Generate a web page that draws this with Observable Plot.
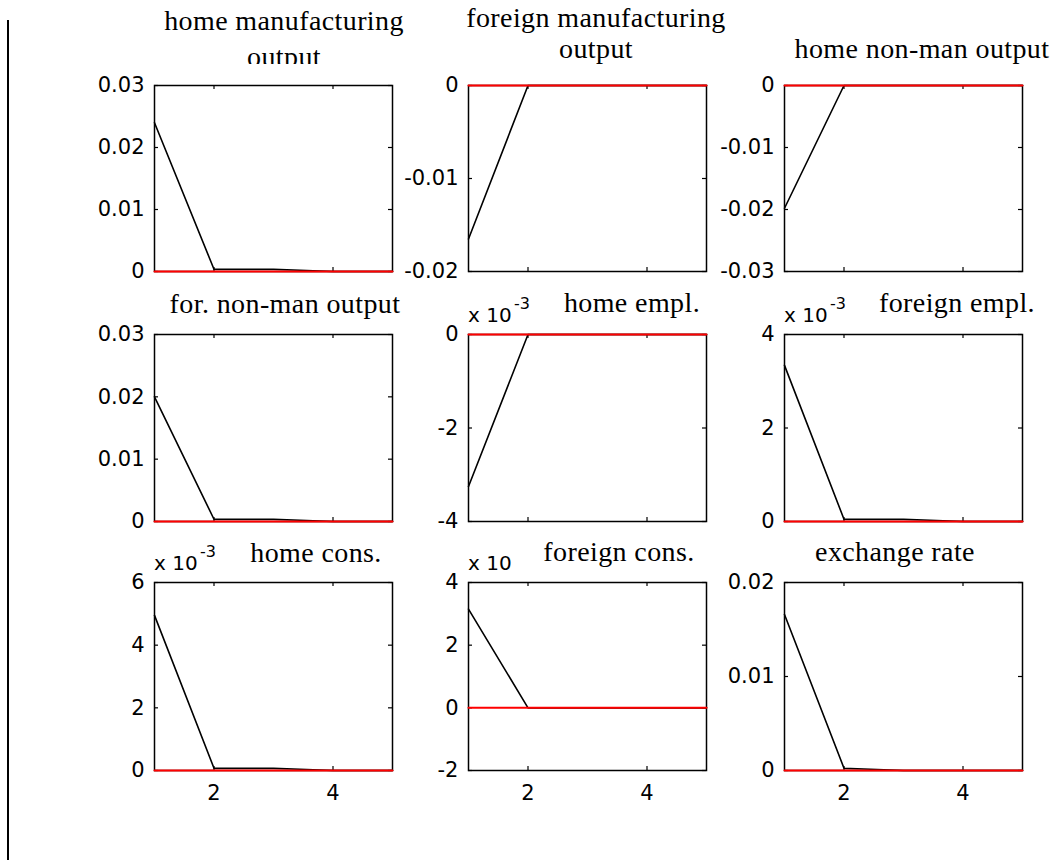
<!DOCTYPE html>
<html>
<head>
<meta charset="utf-8">
<script src="https://cdn.jsdelivr.net/npm/d3@7"></script>
<script src="https://cdn.jsdelivr.net/npm/@observablehq/plot@0.6"></script>
<style>
  html, body { margin: 0; padding: 0; background: #fff; }
  #fig { position: relative; width: 1059px; height: 860px; overflow: hidden; background: #fff; }
  .panel { position: absolute; }
  #edge { position: absolute; left: 7px; top: 20px; width: 2px; height: 840px; background: #000; }
  #overlay { position: absolute; left: 0; top: 0; pointer-events: none; }
</style>
</head>
<body>
<div id="fig"><div id="edge"></div></div>
<script>
// ---------------- data ----------------
const periods = [1, 2, 3, 4, 5];

const homeManOutput       = [0.0240, 0.00036, 0.00036, 0, 0];
const foreignManOutput    = [-0.0165, 0, 0, 0, 0];
const homeNonManOutput    = [-0.0198, 0, 0, 0, 0];
const foreignNonManOutput = [0.0200, 0.00036, 0.00036, 0, 0];
const homeEmpl            = [-3.25, 0, 0, 0, 0];          // x 10^-3
const foreignEmpl         = [3.34, 0.048, 0.048, 0, 0];   // x 10^-3
const homeCons            = [4.95, 0.072, 0.072, 0, 0];   // x 10^-3
const foreignCons         = [3.15, 0, 0, 0, 0];           // x 10
const exchangeRate        = [0.0166, 0.00024, 0, 0, 0];
const steadyState         = [0, 0, 0, 0, 0];

const seriesList = [homeManOutput, foreignManOutput, homeNonManOutput,
                    foreignNonManOutput, homeEmpl, foreignEmpl,
                    homeCons, foreignCons, exchangeRate];

const titles = [
  ["home manufacturing", "output"],
  ["foreign manufacturing", "output"],
  ["home non-man output"],
  ["for. non-man output"],
  ["home empl."],
  ["foreign empl."],
  ["home cons."],
  ["foreign cons."],
  ["exchange rate"]
];

const yDomains = [[0, 0.03], [-0.02, 0], [-0.03, 0], [0, 0.03], [-4, 0], [0, 4], [0, 6], [-2, 4], [0, 0.02]];
const yTicks = [
  [0, 0.01, 0.02, 0.03],
  [-0.02, -0.01, 0],
  [-0.03, -0.02, -0.01, 0],
  [0, 0.01, 0.02, 0.03],
  [-4, -2, 0],
  [0, 2, 4],
  [0, 2, 4, 6],
  [-2, 0, 2, 4],
  [0, 0.01, 0.02]
];
const yTickLabels = [
  ["0", "0.01", "0.02", "0.03"],
  ["-0.02", "-0.01", "0"],
  ["-0.03", "-0.02", "-0.01", "0"],
  ["0", "0.01", "0.02", "0.03"],
  ["-4", "-2", "0"],
  ["0", "2", "4"],
  ["0", "2", "4", "6"],
  ["-2", "0", "2", "4"],
  ["0", "0.01", "0.02"]
];
const xTicks = [2, 4];
const xTickLabels = ["2", "4"];
const exponentBase = "x 10";
const exponentSup = [null, null, null, null, "-3", "-3", "-3", "", null];

// ---------------- layout ----------------
const frameLeft = [154, 468, 784];
const frameTop = [85, 334, 582];
const frameHeight = [186, 187, 188];
const frameWidth = 238;
const mL = 80, mR = 8, mT = 8, mB = 40;
const tickFont = "DejaVu Sans, Verdana, sans-serif";
const titleFont = "Liberation Serif, Times New Roman, serif";

// title anchor: [centerX, baseline of each line]
const titlePos = [
  [284, [30, 66]],
  [596, [27, 58]],
  [922, [58]],
  [285, [313]],
  [632, [312]],
  [957, [312]],
  [316, [562]],
  [619, [561]],
  [895, [561]]
];

const fig = document.getElementById("fig");

seriesList.forEach((vals, k) => {
  const r = Math.floor(k / 3), c = k % 3;
  const h = frameHeight[r];
  const ticks = yTicks[k], labels = yTickLabels[k];
  const bottomRow = r === 2;
  const marks = [
    Plot.frame({stroke: "black", strokeWidth: 1.5}),
    Plot.tickY(ticks, {y: d => d, stroke: "black", strokeWidth: 1.2, insetRight: frameWidth - 4}),
    Plot.tickY(ticks, {y: d => d, stroke: "black", strokeWidth: 1.2, insetLeft: frameWidth - 4}),
    Plot.tickX(xTicks, {x: d => d, stroke: "black", strokeWidth: 1.2, insetBottom: h - 4}),
    Plot.tickX(xTicks, {x: d => d, stroke: "black", strokeWidth: 1.2, insetTop: h - 4}),
    Plot.lineY(vals, {x: periods, stroke: "black", strokeWidth: 1.6}),
    Plot.lineY(steadyState, {x: periods, stroke: "#ff0000", strokeWidth: 2}),
    Plot.axisY({ticks, tickSize: 0, tickPadding: 10, fontSize: 21,
                tickFormat: d => labels[ticks.indexOf(d)], label: null})
  ];
  if (bottomRow) {
    marks.push(Plot.axisX({ticks: xTicks, tickSize: 0, tickPadding: 15, fontSize: 21,
                           tickFormat: d => xTickLabels[xTicks.indexOf(d)], label: null}));
  }
  const chart = Plot.plot({
    width: frameWidth + mL + mR,
    height: h + mT + mB,
    marginLeft: mL, marginRight: mR, marginTop: mT, marginBottom: mB,
    x: Object.assign({domain: [1, 5]}, bottomRow ? {} : {axis: null}),
    y: {domain: yDomains[k]},
    style: {fontFamily: tickFont, fontSize: "21px", color: "black", background: "transparent", overflow: "visible"},
    marks
  });
  chart.classList.add("panel");
  chart.style.left = (frameLeft[c] - mL) + "px";
  chart.style.top = (frameTop[r] - mT) + "px";
  fig.appendChild(chart);
});

// titles and exponent labels
const svg = d3.select(fig).append("svg")
  .attr("id", "overlay").attr("width", 1059).attr("height", 860);
svg.append("clipPath").attr("id", "clipTop").append("rect")
  .attr("x", 0).attr("y", 0).attr("width", 1059).attr("height", 64);

titles.forEach((lines, k) => {
  const [cx, baselines] = titlePos[k];
  lines.forEach((line, j) => {
    const t = svg.append("text")
      .attr("x", cx).attr("y", baselines[j])
      .attr("text-anchor", "middle")
      .style("font-family", titleFont)
      .style("font-size", "28px")
      .style("letter-spacing", "0.4px")
      .attr("fill", "black")
      .text(line);
    if (k === 0 && j === 1) t.attr("clip-path", "url(#clipTop)");
  });
});

exponentSup.forEach((sup, k) => {
  if (sup === null) return;
  const r = Math.floor(k / 3), c = k % 3;
  const x0 = frameLeft[c], base = frameTop[r] - 12;
  svg.append("text").attr("x", x0).attr("y", base)
    .style("font-family", tickFont).style("font-size", "20px").attr("fill", "black")
    .text(exponentBase);
  if (sup) {
    svg.append("text").attr("x", x0 + 46).attr("y", base - 13)
      .style("font-family", tickFont).style("font-size", "16px").attr("fill", "black")
      .text(sup);
  }
});
</script>
</body>
</html>
